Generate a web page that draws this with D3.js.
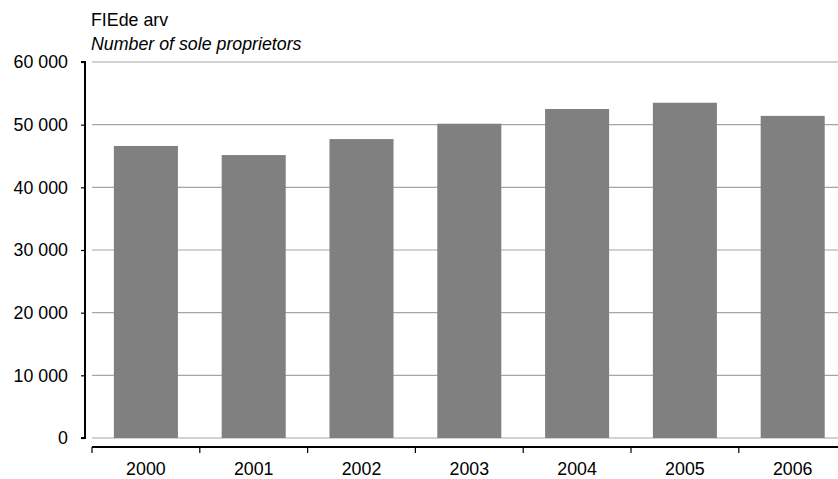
<!DOCTYPE html>
<html><head><meta charset="utf-8">
<script src="https://cdn.jsdelivr.net/npm/d3@7"></script>
<style>body{margin:0;background:#fff}svg{display:block;font-family:Arial,"Liberation Sans",sans-serif}</style>
</head><body><svg id="c" width="838" height="479"></svg>
<script>
const categories = ["2000","2001","2002","2003","2004","2005","2006"];
const values = [46600, 45150, 47700, 50150, 52500, 53500, 51400];
const yTicks = [0,10000,20000,30000,40000,50000,60000];
const title = "FIEde arv";
const subtitle = "Number of sole proprietors";

const FS = "17.8px";
const svg = d3.select("#c");
const x0 = 92, x1 = 92 + 107.8*7;
const x = d3.scaleBand().domain(categories).range([x0, x1]).paddingInner(0.406).paddingOuter(0.203);
const y = d3.scaleLinear().domain([0,60000]).range([438, 62]);
const fmt = v => d3.format(",")(v).replace(/,/g, " ");

// gridlines
svg.append("g").selectAll("line").data(yTicks).join("line")
  .attr("x1", x0).attr("x2", 838).attr("y1", d=>y(d)).attr("y2", d=>y(d))
  .attr("stroke", "#a6a6a6").attr("stroke-width", 1.2);

// bars
svg.append("g").selectAll("rect").data(values).join("rect")
  .attr("x", (d,i)=>x(categories[i])).attr("width", x.bandwidth())
  .attr("y", d=>y(d)).attr("height", d=>y(0)-y(d)).attr("fill", "#808080");

// y axis
const ya = svg.append("g").attr("transform","translate(85,0)")
  .call(d3.axisLeft(y).tickValues(yTicks).tickFormat(fmt).tickSize(4).tickPadding(13));
ya.select(".domain").attr("stroke","#000").attr("stroke-width",2).attr("d", `M-4,${y(60000)}H0V${y(0)}H-4`);
ya.selectAll(".tick line").attr("stroke","#000").attr("stroke-width",1.2);
ya.selectAll(".tick text").attr("font-size",FS).attr("fill","#000").attr("font-family","Arial,'Liberation Sans',sans-serif");

// x axis
const xa = svg.append("g").attr("transform","translate(0,447)");
xa.append("line").attr("x1",x0).attr("x2",838).attr("y1",0).attr("y2",0).attr("stroke","#000").attr("stroke-width",2);
const bounds = d3.range(categories.length+1).map(i => x0 + i*(x1-x0)/categories.length);
xa.selectAll("line.t").data(bounds).join("line").attr("class","t")
  .attr("x1",d=>d).attr("x2",d=>d).attr("y1",0).attr("y2",6).attr("stroke","#000").attr("stroke-width",1.2);
xa.selectAll("text").data(categories).join("text")
  .attr("x", d=>x(d)+x.bandwidth()/2).attr("y", 28.3).attr("text-anchor","middle")
  .attr("font-size",FS).attr("fill","#000").text(d=>d);

svg.append("text").attr("x",91).attr("y",25.7).attr("font-size",FS).text(title);
svg.append("text").attr("x",91).attr("y",50).attr("font-size",FS).attr("font-style","italic").text(subtitle);
</script></body></html>
